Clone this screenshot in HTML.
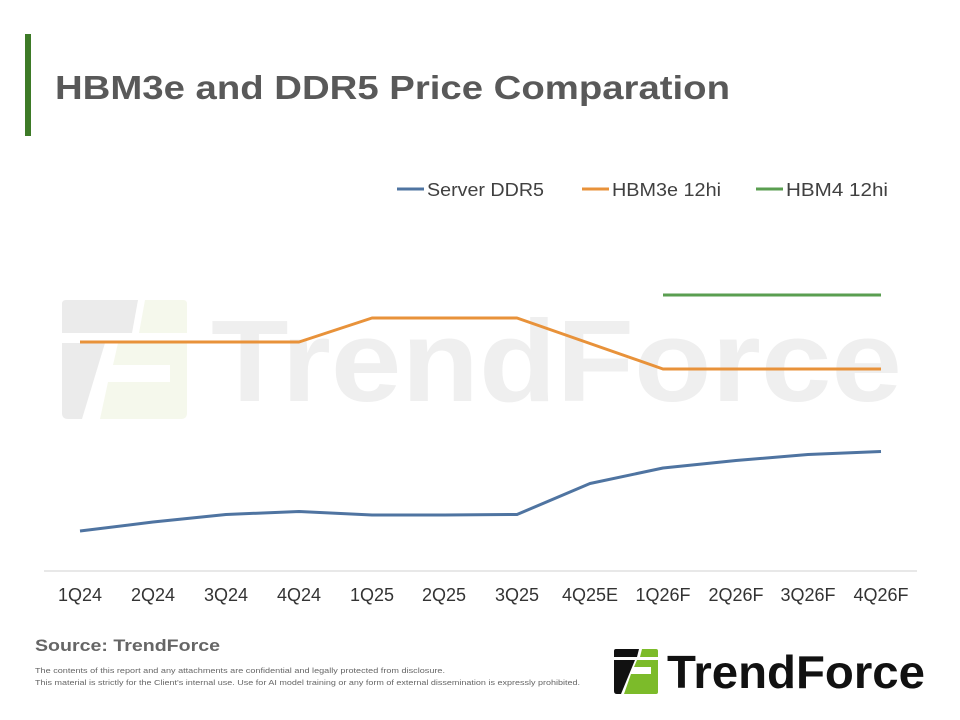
<!DOCTYPE html>
<html>
<head>
<meta charset="utf-8">
<style>
  html,body{margin:0;padding:0;background:#fff;}
  svg{display:block;}
  text{font-family:"Liberation Sans",sans-serif;}
</style>
</head>
<body>
<svg width="960" height="720" viewBox="0 0 960 720" xmlns="http://www.w3.org/2000/svg">
  <rect width="960" height="720" fill="#fff"/>

  <!-- title bar -->
  <rect x="25" y="34" width="6" height="102" fill="#3d7a27"/>
  <text x="55" y="99" font-size="33.5" font-weight="bold" fill="#595959" textLength="675" lengthAdjust="spacingAndGlyphs">HBM3e and DDR5 Price Comparation</text>

  <!-- legend -->
  <line x1="397" y1="189" x2="424" y2="189" stroke="#4f74a1" stroke-width="3"/>
  <text x="427" y="196" font-size="18" fill="#404040" textLength="117" lengthAdjust="spacingAndGlyphs">Server DDR5</text>
  <line x1="582" y1="189" x2="609" y2="189" stroke="#e8923a" stroke-width="3"/>
  <text x="612" y="196" font-size="18" fill="#404040" textLength="109" lengthAdjust="spacingAndGlyphs">HBM3e 12hi</text>
  <line x1="756" y1="189" x2="783" y2="189" stroke="#5a9e50" stroke-width="3"/>
  <text x="786" y="196" font-size="18" fill="#404040" textLength="102" lengthAdjust="spacingAndGlyphs">HBM4 12hi</text>

  <!-- watermark icon -->
  <g>
    <path d="M66,300 H138 L132,333 H62 V304 Q62,300 66,300 Z" fill="#ebebeb"/>
    <path d="M62,343 H105 L82,419 H68 Q62,419 62,413 Z" fill="#ebebeb"/>
    <path d="M145,300 H183 Q187,300 187,304 V333 H139 Z" fill="#f5f8ec"/>
    <path d="M118,343 H187 V365 H113 Z" fill="#f5f8ec"/>
    <path d="M170,365 H187 V382 H170 Z" fill="#f5f8ec"/>
    <path d="M108,382 H187 V413 Q187,419 181,419 H100 Z" fill="#f5f8ec"/>
  </g>
  <text x="211" y="401" font-size="116" font-weight="bold" fill="#efefef" textLength="691" lengthAdjust="spacingAndGlyphs">TrendForce</text>

  <!-- axis -->
  <line x1="44" y1="571" x2="917" y2="571" stroke="#d9d9d9" stroke-width="1.2"/>

  <!-- series -->
  <polyline fill="none" stroke="#e8923a" stroke-width="3" stroke-linejoin="round"
    points="80,342 153,342 226,342 299,342 372,318 444,318 517,318 590,343.5 663,369 736,369 808,369 881,369"/>
  <polyline fill="none" stroke="#5a9e50" stroke-width="3"
    points="663,295 736,295 808,295 881,295"/>
  <polyline fill="none" stroke="#4f74a1" stroke-width="3" stroke-linejoin="round"
    points="80,531 153,522 226,514.5 299,511.5 372,515 444,515 517,514.5 590,483.5 663,468 736,460.5 808,454.5 881,451.5"/>

  <!-- x labels -->
  <g font-size="18" fill="#333" text-anchor="middle">
    <text x="80" y="601">1Q24</text>
    <text x="153" y="601">2Q24</text>
    <text x="226" y="601">3Q24</text>
    <text x="299" y="601">4Q24</text>
    <text x="372" y="601">1Q25</text>
    <text x="444" y="601">2Q25</text>
    <text x="517" y="601">3Q25</text>
    <text x="590" y="601">4Q25E</text>
    <text x="663" y="601">1Q26F</text>
    <text x="736" y="601">2Q26F</text>
    <text x="808" y="601">3Q26F</text>
    <text x="881" y="601">4Q26F</text>
  </g>

  <!-- source & disclaimer -->
  <text x="35" y="651" font-size="17" font-weight="bold" fill="#666" textLength="185" lengthAdjust="spacingAndGlyphs">Source: TrendForce</text>
  <text x="35" y="673" font-size="7.5" fill="#666" textLength="410" lengthAdjust="spacingAndGlyphs">The contents of this report and any attachments are confidential and legally protected from disclosure.</text>
  <text x="35" y="685" font-size="7.5" fill="#666" textLength="545" lengthAdjust="spacingAndGlyphs">This material is strictly for the Client's internal use. Use for AI model training or any form of external dissemination is expressly prohibited.</text>

  <!-- logo -->
  <g>
    <path d="M616,649 H639 L637,657 H614 V651 Q614,649 616,649 Z" fill="#111"/>
    <path d="M614,660 H635 L621,694 H617 Q614,694 614,691 Z" fill="#111"/>
    <path d="M642,649 H656 Q658,649 658,651 V657 H640 Z" fill="#7cbb2a"/>
    <path d="M637,660 H658 V667 H634 Z" fill="#7cbb2a"/>
    <path d="M651,667 H658 V674 H651 Z" fill="#7cbb2a"/>
    <path d="M631,674 H658 V692 Q658,694 656,694 H624 Z" fill="#7cbb2a"/>
  </g>
  <text x="667" y="688" font-size="46" font-weight="bold" fill="#111" textLength="258" lengthAdjust="spacingAndGlyphs">TrendForce</text>
</svg>
</body>
</html>
